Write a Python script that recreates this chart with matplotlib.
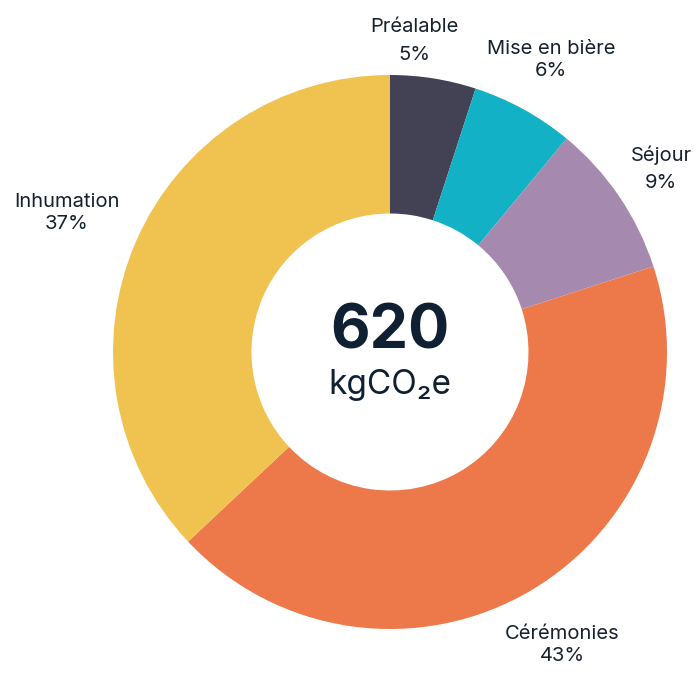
import matplotlib.pyplot as plt

plt.rcParams['font.family'] = ['Inter', 'DejaVu Sans']

categories = ['Préalable', 'Mise en bière', 'Séjour', 'Cérémonies', 'Inhumation']
values = [5, 6, 9, 43, 37]
colors = ['#434254', '#12b1c6', '#a689ae', '#ed794a', '#f0c350']
total_value = '620'
unit = 'kgCO₂e'

# label block centres in pixels (x, y from top), and line spacing
label_pos = [(414, 41), (551, 60), (661, 169), (562, 645), (67, 213)]
label_gap = [1.65, 1.3, 1.65, 1.3, 1.3]
text_col = '#17202e'

fig = plt.figure(figsize=(7, 7), dpi=100)
ax = fig.add_axes([0, 0, 1, 1])
R = 277.0
cx, cy = 390, 352

ax.pie(values, colors=colors, startangle=90, counterclock=False, radius=1,
       wedgeprops=dict(width=0.5, edgecolor='none'))

ax.set_xlim(-cx / R, (700 - cx) / R)
ax.set_ylim(-(700 - cy) / R, cy / R)
ax.set_aspect('equal')
ax.axis('off')

for name, v, (px, py), ls in zip(categories, values, label_pos, label_gap):
    ax.text(px / 700, 1 - py / 700, f'{name}\n{v}%', transform=ax.transAxes,
            ha='center', va='center', fontsize=14.5, color=text_col,
            linespacing=ls)

ax.text(0, 0.07, total_value, ha='center', va='center', fontsize=44,
        fontweight='bold', color='#102033')
ax.text(0, -0.12, unit, ha='center', va='center', fontsize=24,
        color='#102033')

fig.savefig('out.png', dpi=100)
